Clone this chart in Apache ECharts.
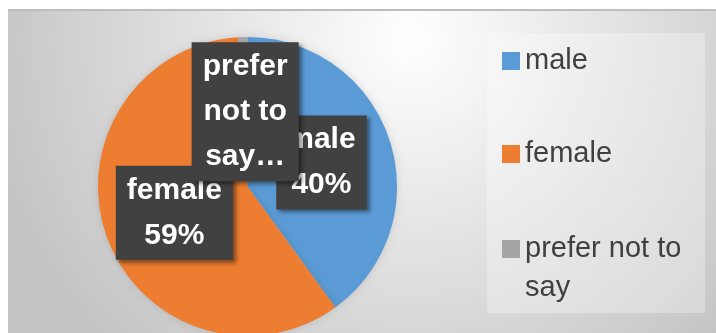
<!doctype html>
<html lang="en">
  <head>
    <meta charset="UTF-8" />
    <title>Gender pie</title>
    <script src="https://cdn.jsdelivr.net/npm/echarts/dist/echarts.min.js"></script>
    <style>
      html, body { margin: 0; padding: 0; background: #fff; }
      #main { width: 716px; height: 333px; }
    </style>
  </head>
  <body>
    <div id="main"></div>
    <script>
      // data (percent of answers)
      const categories = ["male", "female", "prefer not to say"];
      const values = [40, 59, 1];
      const colors = ["#5b9bd5", "#ed7d31", "#a5a5a5"];
      // Excel cut the long data label short
      const labelText = ["male\n40%", "female\n59%", "prefer\nnot to\nsay…"];
      // legend names, wrapped like the original (leading empty line keeps
      // the first line level with the colour box)
      const legendText = ["male", "female", "\nprefer not to\nsay"];
      const legendTops = [41.5, 134.5, 190.5];

      const pieCenter = [247.5, 186.5];
      const pieRadius = 149.5;

      const chart = echarts.init(document.getElementById("main"));

      const labelStyle = {
        fontFamily: "Liberation Sans",
        fontWeight: "bold",
        fontSize: 30,
        lineHeight: 45,
        color: "#ffffff",
        backgroundColor: "#414141",
        padding: [2, 11],
        shadowColor: "rgba(0,0,0,0.45)",
        shadowBlur: 4,
        shadowOffsetX: 3,
        shadowOffsetY: 3,
      };

      // tiny slice: echarts drops an inside label that can't fit, so that one
      // is drawn as a graphic at the same spot (half radius, mid angle)
      const smallIndex = 2;

      const pieData = categories.map(function (name, i) {
        const item = { name: name, value: values[i], itemStyle: { color: colors[i] } };
        if (i === smallIndex) item.label = { show: false };
        return item;
      });

      const total = values.reduce(function (a, b) { return a + b; }, 0);
      let before = 0;
      for (let i = 0; i < smallIndex; i++) before += values[i];
      const midAngle = ((before + values[smallIndex] / 2) / total) * 2 * Math.PI;
      const smallLabelX = pieCenter[0] + (pieRadius / 2) * Math.sin(midAngle);
      const smallLabelY = pieCenter[1] - (pieRadius / 2) * Math.cos(midAngle);

      // one legend per entry so each row sits where Excel put it
      const legends = categories.map(function (name, i) {
        return {
          data: [name],
          orient: "vertical",
          left: 502,
          top: legendTops[i],
          padding: 0,
          itemWidth: 18,
          itemHeight: 18,
          itemGap: 0,
          icon: "rect",
          selectedMode: false,
          formatter: function () {
            return legendText[i];
          },
          textStyle: {
            fontFamily: "Liberation Sans",
            fontSize: 29,
            lineHeight: 39,
            color: "#404040",
          },
        };
      });

      const option = {
        animation: false,
        backgroundColor: "#ffffff",
        graphic: [
          {
            type: "rect",
            z: -10,
            silent: true,
            shape: { x: 8, y: 9, width: 708, height: 324 },
            style: {
              fill: {
                type: "radial",
                x: 410,
                y: 40,
                r: 430,
                global: true,
                colorStops: [
                  { offset: 0, color: "#ffffff" },
                  { offset: 1, color: "#c4c4c4" },
                ],
              },
            },
          },
          {
            type: "rect",
            z: -9,
            silent: true,
            shape: { x: 8, y: 9, width: 708, height: 2 },
            style: { fill: "#bdbdbd" },
          },
          {
            type: "rect",
            z: -9,
            silent: true,
            shape: { x: 487, y: 33, width: 218, height: 280 },
            style: { fill: "rgba(255,255,255,0.3)" },
          },
          {
            type: "text",
            z: 100,
            silent: true,
            x: smallLabelX,
            y: smallLabelY,
            style: Object.assign({}, labelStyle, {
              text: labelText[smallIndex],
              fill: "#ffffff",
              font: "bold 30px 'Liberation Sans'",
              align: "center",
              verticalAlign: "middle",
            }),
          },
        ],
        legend: legends,
        series: [
          {
            type: "pie",
            center: pieCenter,
            radius: pieRadius,
            startAngle: 90,
            clockwise: true,
            avoidLabelOverlap: false,
            emphasis: { disabled: true },
            itemStyle: {
              shadowColor: "rgba(0,0,0,0.12)",
              shadowBlur: 8,
            },
            label: Object.assign({}, labelStyle, {
              show: true,
              position: "inside",
              formatter: function (p) {
                return labelText[p.dataIndex];
              },
            }),
            labelLine: { show: false },
            data: pieData,
          },
        ],
      };

      chart.setOption(option);
    </script>
  </body>
</html>
